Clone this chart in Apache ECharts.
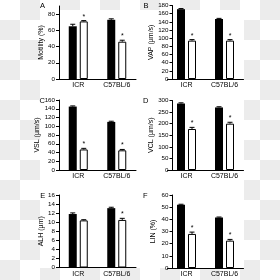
<!DOCTYPE html>
<html>
<head>
<meta charset="utf-8">
<script src="https://cdn.jsdelivr.net/npm/echarts@6/dist/echarts.min.js"></script>
<style>
html,body{margin:0;padding:0;width:280px;height:280px;overflow:hidden;}
body{background:repeating-conic-gradient(#ececec 0 25%, #ffffff 0 50%) 0 0/40px 40px;}
#paper{position:absolute;left:40px;top:10px;width:204px;height:258px;background:#fff;}
#chart{position:absolute;left:0;top:0;width:280px;height:280px;}
</style>
</head>
<body>
<div id="paper"></div>
<div id="chart"></div>
<script>
// ---- data ----
const categories = ['ICR', 'C57BL/6'];
const panelLetters = ['A', 'B', 'C', 'D', 'E', 'F'];
const axisNames = ['Motility (%)', 'VAP (\u00b5m/s)', 'VSL (\u00b5m/s)', 'VCL (\u00b5m/s)', 'ALH (\u00b5m)', 'LIN (%)'];

const motilityBlack = [65, 73];   const motilityBlackErr = [2.5, 1.2];
const motilityWhite = [71, 46];   const motilityWhiteErr = [1.0, 1.8];
const vapBlack = [171, 147];      const vapBlackErr = [1.5, 1.5];
const vapWhite = [94, 94];        const vapWhiteErr = [2.5, 2.5];
const vslBlack = [145, 110];      const vslBlackErr = [1.5, 1.5];
const vslWhite = [47, 45];        const vslWhiteErr = [2.5, 2.0];
const vclBlack = [287, 270];      const vclBlackErr = [3, 3];
const vclWhite = [177, 200];      const vclWhiteErr = [7, 6];
const alhBlack = [11.8, 13.1];    const alhBlackErr = [0.25, 0.2];
const alhWhite = [10.4, 10.5];    const alhWhiteErr = [0.15, 0.35];
const linBlack = [52, 41.5];      const linBlackErr = [0.4, 0.4];
const linWhite = [28, 22.5];      const linWhiteErr = [1.5, 1.0];

const motilityStar = [1, 1];
const vapStar = [1, 1];
const vslStar = [1, 1];
const vclStar = [1, 1];
const alhStar = [0, 1];
const linStar = [1, 1];

const yMax = [90, 180, 160, 300, 16, 60];
const yInterval = [20, 20, 20, 50, 2, 10];
const yTicks = [
  [0, 20, 40, 60, 80],
  [0, 20, 40, 60, 80, 100, 120, 140, 160, 180],
  [0, 20, 40, 60, 80, 100, 120, 140, 160],
  [0, 50, 100, 150, 200, 250, 300],
  [0, 2, 4, 6, 8, 10, 12, 14, 16],
  [0, 10, 20, 30, 40, 50, 60]
];

const blackSets = [motilityBlack, vapBlack, vslBlack, vclBlack, alhBlack, linBlack];
const blackErrs = [motilityBlackErr, vapBlackErr, vslBlackErr, vclBlackErr, alhBlackErr, linBlackErr];
const whiteSets = [motilityWhite, vapWhite, vslWhite, vclWhite, alhWhite, linWhite];
const whiteErrs = [motilityWhiteErr, vapWhiteErr, vslWhiteErr, vclWhiteErr, alhWhiteErr, linWhiteErr];
const starSets = [motilityStar, vapStar, vslStar, vclStar, alhStar, linStar];

// ---- layout ----
const FONT = 'Liberation Sans, Arial, sans-serif';
const BAR_W = 8, BAR_GAP = 3;
const OFFSET = (BAR_W + BAR_GAP) / 2;
const grids = [
  {left: 59, top: 6, width: 77, height: 73},
  {left: 167.5, top: 5.5, width: 76, height: 73.5},
  {left: 59, top: 100, width: 77, height: 70},
  {left: 167.5, top: 100.5, width: 76, height: 69.5},
  {left: 59, top: 195, width: 77, height: 72.5},
  {left: 167.5, top: 195, width: 76, height: 73}
];
const yOffsets = [0, -5, 0, -5, 0, -5];
const nameGaps = [14, 16, 14, 16, 14, 16];
const letterPos = [[40, 1.5], [143.5, 2], [39.5, 97], [143, 97], [40.3, 192], [143, 192]];

function errSeries(idx, vals, errs, stars, dir) {
  return {
    type: 'custom',
    xAxisIndex: idx, yAxisIndex: idx,
    z: 5,
    data: vals.map((v, i) => [i, v, errs[i], stars ? stars[i] : 0]),
    encode: {x: 0, y: 1},
    renderItem: function (params, api) {
      const base = api.coord([api.value(0), api.value(1)]);
      const top = api.coord([api.value(0), api.value(1) + api.value(2)]);
      const x = base[0] + dir * OFFSET;
      const children = [
        {type: 'line', shape: {x1: x, y1: base[1], x2: x, y2: top[1]}, style: {stroke: '#000', lineWidth: 1}},
        {type: 'line', shape: {x1: x - 2.5, y1: top[1], x2: x + 2.5, y2: top[1]}, style: {stroke: '#000', lineWidth: 1}}
      ];
      if (api.value(3)) {
        children.push({type: 'text', x: x, y: top[1] - 4,
          style: {text: '*', fill: '#000', font: '7px ' + FONT, align: 'center', verticalAlign: 'middle'}});
      }
      return {type: 'group', children: children};
    }
  };
}

const option = {
  animation: false,
  backgroundColor: 'transparent',
  title: panelLetters.map((t, i) => ({
    text: t, left: letterPos[i][0], top: letterPos[i][1], padding: 0,
    textStyle: {fontFamily: FONT, fontSize: 7.5, fontWeight: 'normal', color: '#000'}
  })),
  grid: grids.map(g => Object.assign({containLabel: false}, g)),
  xAxis: grids.map((g, i) => ({
    type: 'category', gridIndex: i, data: categories,
    axisLine: {lineStyle: {color: '#000', width: 1}},
    axisTick: {alignWithLabel: true, length: 2, lineStyle: {color: '#000'}},
    axisLabel: {color: '#000', fontFamily: FONT, fontSize: 7, margin: 3}
  })),
  yAxis: grids.map((g, i) => ({
    type: 'value', gridIndex: i, min: 0, max: yMax[i], interval: yInterval[i],
    offset: yOffsets[i],
    name: axisNames[i], nameLocation: 'middle', nameGap: nameGaps[i],
    nameTextStyle: {color: '#000', fontFamily: FONT, fontSize: 7},
    splitLine: {show: false},
    axisLine: {show: true, lineStyle: {color: '#000', width: 1}},
    axisTick: {show: true, length: 3, lineStyle: {color: '#000'}, customValues: yTicks[i]},
    axisLabel: {color: '#000', fontFamily: FONT, fontSize: 6.2, margin: 4, customValues: yTicks[i]}
  })),
  series: []
};

for (let i = 0; i < 6; i++) {
  option.series.push({
    type: 'bar', xAxisIndex: i, yAxisIndex: i, data: blackSets[i],
    barWidth: BAR_W, barGap: (BAR_GAP / BAR_W * 100) + '%',
    itemStyle: {color: '#000'}
  });
  option.series.push({
    type: 'bar', xAxisIndex: i, yAxisIndex: i, data: whiteSets[i],
    barWidth: BAR_W, barGap: (BAR_GAP / BAR_W * 100) + '%',
    itemStyle: {color: '#fff', borderColor: '#000', borderWidth: 1}
  });
  option.series.push(errSeries(i, blackSets[i], blackErrs[i], null, -1));
  option.series.push(errSeries(i, whiteSets[i], whiteErrs[i], starSets[i], 1));
}

const chart = echarts.init(document.getElementById('chart'), null, {renderer: 'canvas'});
chart.setOption(option);
</script>
</body>
</html>
